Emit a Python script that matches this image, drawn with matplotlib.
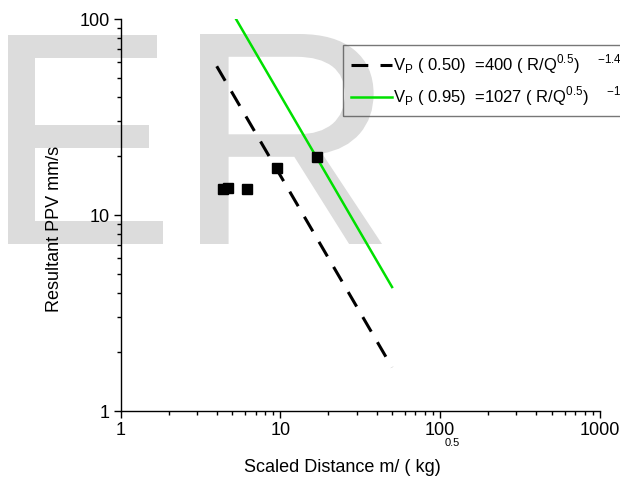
import matplotlib
matplotlib.use("Agg")
import matplotlib.pyplot as plt
from matplotlib.textpath import TextPath
from matplotlib.patches import PathPatch
from matplotlib.font_manager import FontProperties
from matplotlib.transforms import Affine2D, IdentityTransform

plt.rcParams['font.family'] = ['Liberation Sans', 'DejaVu Sans']
plt.rcParams['mathtext.fontset'] = 'custom'
plt.rcParams['mathtext.rm'] = 'Liberation Sans'

# data
meas_x = [4.37, 4.70, 6.18, 9.5, 16.9]
meas_y = [13.6, 13.7, 13.6, 17.4, 19.8]
fit50_x = [4, 50]
fit50_y = [57.4, 1.67]
fit95_x = [5, 50]
fit95_y = [107.9, 4.29]
label50 = r'V$_\mathregular{P}$ ( 0.50)  =400 ( R/Q$^\mathregular{0.5}$)    $^\mathregular{-1.4}$'
label95 = r'V$_\mathregular{P}$ ( 0.95)  =1027 ( R/Q$^\mathregular{0.5}$)    $^\mathregular{-1.4}$'
xticks = [1, 10, 100, 1000]
yticks = [1, 10, 100]

W, H = 620, 486
fig = plt.figure(figsize=(W/100, H/100), dpi=100)
ax = fig.add_axes([120.5/W, 1-411/H, (600-120.5)/W, (411-19)/H])

# watermark letters, fitted into pixel boxes (left, top, right, bottom)
fp = FontProperties(family='Liberation Sans')
for ch, (x0, y0, x1, y1) in [('E', (8, 35, 163, 244)), ('R', (200, 34, 382, 244))]:
    tp = TextPath((0, 0), ch, size=100, prop=fp)
    ext = tp.get_extents()
    sx = (x1 - x0) / ext.width
    sy = (y1 - y0) / ext.height
    tr = Affine2D().translate(-ext.x0, -ext.y0).scale(sx, sy).translate(x0, H - y1)
    patch = PathPatch(tr.transform_path(tp), facecolor='#dcdcdc', edgecolor='none',
                      transform=IdentityTransform(), zorder=0.5, clip_on=False)
    ax.add_artist(patch)

l1, = ax.plot(fit50_x, fit50_y, color='black', lw=2.2, dashes=(5.5, 4.0),
              dash_capstyle='butt', zorder=3, label=label50)
l2, = ax.plot(fit95_x, fit95_y, color='#00e000', lw=1.8, zorder=3, label=label95)
ax.plot(meas_x, meas_y, 's', color='black', markersize=7.5, zorder=4)

ax.set_xscale('log')
ax.set_yscale('log')
ax.set_xlim(1, 1000)
ax.set_ylim(1, 100)
ax.set_xticks(xticks)
ax.set_xticklabels([str(v) for v in xticks])
ax.set_yticks(yticks)
ax.set_yticklabels([str(v) for v in yticks])
for s in ['top', 'right']:
    ax.spines[s].set_visible(False)
for s in ['left', 'bottom']:
    ax.spines[s].set_linewidth(1.0)
ax.tick_params(which='major', length=5, width=1, labelsize=13, direction='out', pad=3)
ax.tick_params(which='minor', length=3, width=1, direction='out')
ax.set_facecolor('none')

fig.text(342/W, 1-468/H, 'Scaled Distance m/ ( kg)', fontsize=13,
         ha='center', va='center')
fig.text(452/W, 1-443/H, '0.5', fontsize=8, ha='center', va='center')
fig.text(55/W, 1-229/H, 'Resultant PPV mm/s', fontsize=13, rotation=90,
         ha='center', va='center')

leg = ax.legend(handles=[l1, l2], loc='upper left',
                bbox_to_anchor=(343/W, 1-45/H), bbox_transform=fig.transFigure,
                fontsize=12, frameon=True, fancybox=False, facecolor='none',
                edgecolor='#555555', handlelength=2.5, handletextpad=0.05,
                labelspacing=0.5, borderpad=0.45, borderaxespad=0)
leg.get_frame().set_linewidth(1.0)
leg.set_zorder(5)

fig.savefig('out.png', dpi=100)
